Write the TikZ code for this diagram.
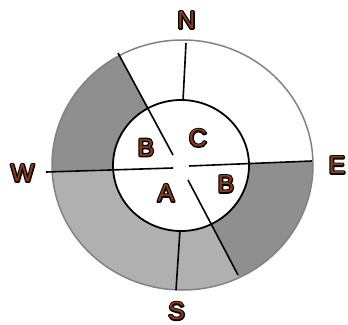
\documentclass[tikz,border=0pt]{standalone}
\usepackage{fontspec}
\setmainfont{Liberation Sans}
\definecolor{lblbrown}{RGB}{140,60,20}
\definecolor{darkgr}{RGB}{143,143,143}
\definecolor{lightgr}{RGB}{176,176,176}
\definecolor{rimgr}{RGB}{130,130,130}
\newcommand\stroked[1]{\special{pdf:literal 0 0 0 RG 2 Tr 2.6 w 1 j}#1}
\tikzset{
  lblfont/.style={font=\fontsize{25}{25}\selectfont, inner sep=0pt, anchor=center},
  divline/.style={draw=black, line width=1.6pt},
}
\newcommand\olbl[3]{%
  \node[lblfont,text=black] (#1-o) at (#2) {\stroked{#3}};
  \node[lblfont,text=lblbrown] (#1) at (#2) {#3};}
\begin{document}
\begin{tikzpicture}[x=1pt,y=-1pt]
\useasboundingbox (0,0) rectangle (348,324);
\fill[white] (0,0) rectangle (348,324);
\coordinate (ctr) at (181,166);
% sectors clipped to outer ellipse
\begin{scope}
  \clip (182.5,165) ellipse [x radius=130.5, y radius=125];
  \fill[white] (0,0) rectangle (348,324);
  \fill[darkgr] (ctr) -- (55,-60) -- (-100,-60) -- (-100,178) -- cycle;
  \fill[lightgr] (ctr) -- (-100,178) -- (-100,417) -- (312,417) -- cycle;
  \fill[darkgr] (ctr) -- (312,417) -- (450,417) -- (450,156) -- cycle;
\end{scope}
\draw[rimgr, line width=1.5pt] (182.5,165) ellipse [x radius=130.5, y radius=125];
% inner disc
\fill[white] (181,165.5) ellipse [x radius=68, y radius=65.5];
\draw[black, line width=1.8pt] (181,165.5) ellipse [x radius=68, y radius=65.5];
% line end points
\coordinate (n1) at (186,43);  \coordinate (n2) at (183,101);
\coordinate (s1) at (180,230); \coordinate (s2) at (176,290);
\coordinate (w1) at (46,172);  \coordinate (w2) at (173,168);
\coordinate (e1) at (189,166); \coordinate (e2) at (312,161);
\coordinate (nw1) at (118,53); \coordinate (nw2) at (173,155);
\coordinate (se1) at (188,180); \coordinate (se2) at (238,275);
\draw[divline] (n1) -- (n2);
\draw[divline] (s1) -- (s2);
\draw[divline] (w1) -- (w2);
\draw[divline] (e1) -- (e2);
\draw[divline] (nw1) -- (nw2);
\draw[divline] (se1) -- (se2);
% labels
\olbl{N}{186.5,20}{N}
\olbl{W}{22.5,173}{W}
\olbl{E}{337,165}{E}
\olbl{S}{176.5,311}{S}
\olbl{Bl}{146,147.5}{B}
\olbl{C}{198,138}{C}
\olbl{A}{166,193}{A}
\olbl{Br}{226,184}{B}
\end{tikzpicture}
\end{document}
